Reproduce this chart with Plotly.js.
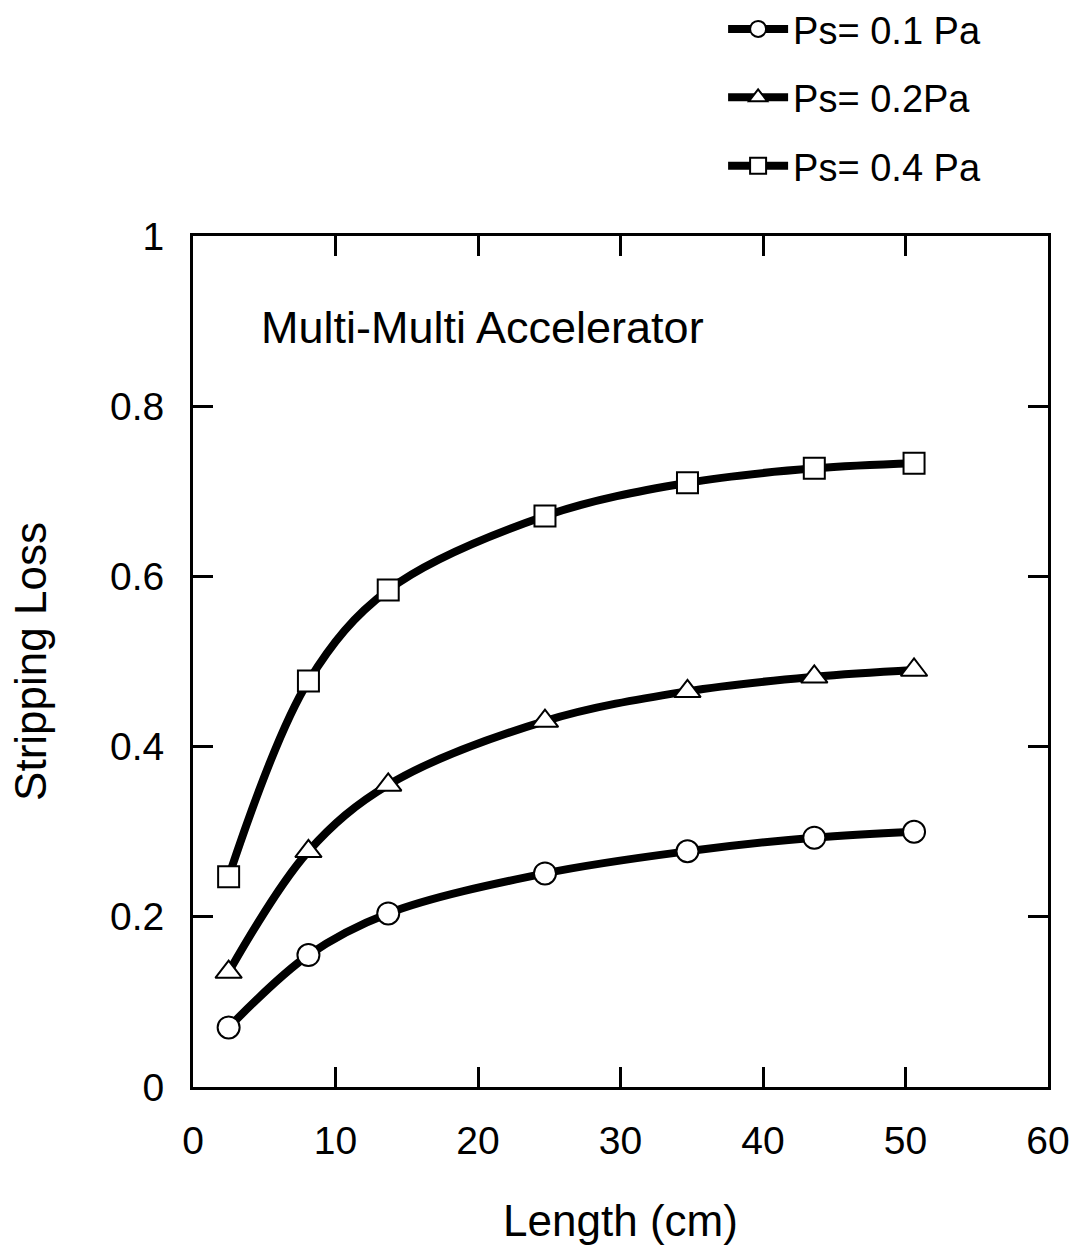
<!DOCTYPE html>
<html>
<head>
<meta charset="utf-8">
<script src="https://cdn.plot.ly/plotly-3.0.1.min.js"></script>
<style>html,body{margin:0;padding:0;background:#fff;}#chart{width:1078px;height:1255px;}</style>
</head>
<body>
<div id="chart"></div>
<script>
// Data
const lengthCm = [2.5, 8.1, 13.7, 24.7, 34.7, 43.6, 50.6];
const loss01 = [0.070, 0.155, 0.204, 0.251, 0.277, 0.293, 0.300];
const loss02 = [0.135, 0.277, 0.355, 0.430, 0.465, 0.482, 0.490];
const loss04 = [0.247, 0.477, 0.584, 0.671, 0.710, 0.727, 0.733];
const seriesNames = ['Ps= 0.1 Pa', 'Ps= 0.2Pa', 'Ps= 0.4 Pa'];
const xTicks = [0, 10, 20, 30, 40, 50, 60];
const yTicks = [0, 0.2, 0.4, 0.6, 0.8, 1];
const yTickText = ['0', '0.2', '0.4', '0.6', '0.8', '1'];
const annotationText = 'Multi-Multi Accelerator';

const FONT = 'Liberation Sans, Arial, Helvetica, sans-serif';
const ys = [loss01, loss02, loss04];

const traces = ys.map((y, i) => ({
  type: 'scatter',
  mode: 'lines+markers',
  x: lengthCm,
  y: y,
  name: seriesNames[i],
  legendgroup: 'g' + i,
  line: {color: '#000', width: 8, shape: 'spline', smoothing: 1},
  marker: {
    symbol: ['circle', 'triangle-up', 'square'][i],
    size: [22, 23, 21][i],
    color: '#fff',
    line: {color: '#000', width: 2}
  },
  cliponaxis: false
}));

const axisCommon = {
  showgrid: false,
  zeroline: false,
  showline: true,
  linecolor: '#000',
  linewidth: 3,
  mirror: 'ticks',
  ticks: 'inside',
  ticklen: 20,
  tickwidth: 3,
  tickcolor: '#000',
  tickfont: {family: FONT, size: 39, color: '#000'}
};

const layout = {
  width: 1078,
  height: 1255,
  paper_bgcolor: '#fff',
  plot_bgcolor: '#fff',
  margin: {l: 193, r: 30, t: 236, b: 168, autoexpand: false},
  showlegend: true,
  legend: {
    x: 0.62, y: 1.28, xanchor: 'left', yanchor: 'top',
    font: {family: FONT, size: 38, color: '#000'},
    tracegroupgap: 16,
    traceorder: 'grouped',
    itemwidth: 60,
    bgcolor: 'rgba(0,0,0,0)'
  },
  xaxis: Object.assign({}, axisCommon, {
    range: [0, 60],
    tickmode: 'array',
    tickvals: xTicks,
    ticktext: xTicks.map(String),
    ticklabelstandoff: 17,
    title: {text: 'Length (cm)', font: {family: FONT, size: 44, color: '#000'}, standoff: 45}
  }),
  yaxis: Object.assign({}, axisCommon, {
    range: [0, 1],
    tickmode: 'array',
    tickvals: yTicks,
    ticktext: yTickText,
    ticklabelstandoff: 18,
    title: {text: 'Stripping Loss', font: {family: FONT, size: 44, color: '#000'}, standoff: 50}
  }),
  annotations: [{
    x: 4.6, y: 0.892, xref: 'x', yref: 'y',
    xanchor: 'left', yanchor: 'middle',
    text: annotationText, showarrow: false,
    font: {family: FONT, size: 45, color: '#000'}
  }]
};

Plotly.newPlot('chart', traces, layout, {displayModeBar: false, staticPlot: true});
</script>
</body>
</html>
